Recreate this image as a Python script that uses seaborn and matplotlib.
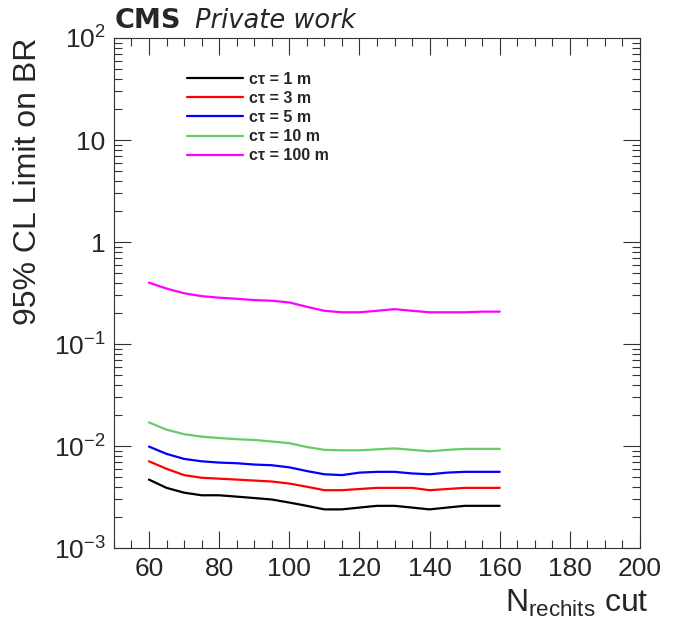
import numpy as np
import pandas as pd
import matplotlib
matplotlib.use("Agg")
import matplotlib.pyplot as plt
import matplotlib.ticker as mticker
import seaborn as sns

n_cut = [60, 65, 70, 75, 80, 85, 90, 95, 100, 105, 110, 115, 120, 125, 130, 135, 140, 145, 150, 155, 160]
lim_1m = [0.0047, 0.0039, 0.0035, 0.0033, 0.0033, 0.0032, 0.0031, 0.0030, 0.0028, 0.0026, 0.0024,
          0.0024, 0.0025, 0.0026, 0.0026, 0.0025, 0.0024, 0.0025, 0.0026, 0.0026, 0.0026]
lim_3m = [0.0071, 0.0060, 0.0052, 0.0049, 0.0048, 0.0047, 0.0046, 0.0045, 0.0043, 0.0040, 0.0037,
          0.0037, 0.0038, 0.0039, 0.0039, 0.0039, 0.0037, 0.0038, 0.0039, 0.0039, 0.0039]
lim_5m = [0.0099, 0.0084, 0.0075, 0.0071, 0.0069, 0.0068, 0.0066, 0.0065, 0.0062, 0.0057, 0.0053,
          0.0052, 0.0055, 0.0056, 0.0056, 0.0054, 0.0053, 0.0055, 0.0056, 0.0056, 0.0056]
lim_10m = [0.0171, 0.0145, 0.0131, 0.0124, 0.0120, 0.0117, 0.0115, 0.0111, 0.0107, 0.0098, 0.0092,
           0.0091, 0.0091, 0.0093, 0.0095, 0.0092, 0.0089, 0.0092, 0.0094, 0.0094, 0.0094]
lim_100m = [0.40, 0.35, 0.315, 0.295, 0.285, 0.278, 0.270, 0.266, 0.256, 0.232, 0.212,
            0.205, 0.205, 0.212, 0.220, 0.212, 0.205, 0.205, 0.205, 0.208, 0.208]
labels = ["c\u03c4 = 1 m", "c\u03c4 = 3 m", "c\u03c4 = 5 m", "c\u03c4 = 10 m", "c\u03c4 = 100 m"]
colors = ["#000000", "#ff0000", "#0000ff", "#66cc66", "#ff00ff"]

series = [lim_1m, lim_3m, lim_5m, lim_10m, lim_100m]
df = pd.concat([pd.DataFrame({"N": n_cut, "limit": s, "ctau": lab}) for s, lab in zip(series, labels)],
               ignore_index=True)

sns.set_style("ticks")
plt.rcParams["font.family"] = ["Liberation Sans", "DejaVu Sans"]
plt.rcParams["mathtext.fontset"] = "custom"
plt.rcParams["mathtext.rm"] = "Liberation Sans"
plt.rcParams["mathtext.it"] = "Liberation Sans:italic"

fig = plt.figure(figsize=(6.74, 6.33), dpi=100)
ax = fig.add_axes([0.169, 0.134, 0.7806, 0.806])

sns.lineplot(data=df, x="N", y="limit", hue="ctau", palette=colors, hue_order=labels,
             linewidth=1.6, ax=ax, legend=True)

ax.set_yscale("log")
ax.set_xlim(50, 200)
ax.set_ylim(1e-3, 1e2)

ax.xaxis.set_major_locator(mticker.MultipleLocator(20))
ax.xaxis.set_minor_locator(mticker.MultipleLocator(5))
ax.yaxis.set_major_locator(mticker.LogLocator(base=10, numticks=10))
ax.yaxis.set_minor_locator(mticker.LogLocator(base=10, subs=np.arange(2, 10), numticks=20))
ax.yaxis.set_minor_formatter(mticker.NullFormatter())

def yfmt(v, pos):
    e = int(round(np.log10(v)))
    if e == 0:
        return "1"
    if e == 1:
        return "10"
    return r"$\mathregular{10^{%d}}$" % e
ax.yaxis.set_major_formatter(mticker.FuncFormatter(yfmt))

ax.tick_params(which="both", direction="in", top=True, right=True, labelsize=19, width=0.8, color="#333333")
ax.tick_params(which="major", length=12, pad=6)
ax.tick_params(which="minor", length=6)
for sp in ax.spines.values():
    sp.set_linewidth(0.8)
    sp.set_color("#333333")

ax.set_xlabel(r"N$_{\mathregular{rechits}}$ cut", fontsize=23, labelpad=4)
ax.xaxis.set_label_coords(1.016, -0.077, transform=ax.transAxes)
ax.xaxis.label.set_horizontalalignment("right")
ax.xaxis.label.set_verticalalignment("top")
ax.set_ylabel("95% CL Limit on BR", fontsize=23, loc="top", labelpad=8)

leg = ax.legend(loc="upper left", bbox_to_anchor=(0.139, 0.934), frameon=False,
                borderpad=0, borderaxespad=0,
                prop={"weight": "bold", "size": 11.5, "family": "Liberation Sans"},
                handlelength=3.5, labelspacing=0.26, handletextpad=0.35)
for line in leg.get_lines():
    line.set_linewidth(1.6)

fig.text(0.170, 0.955, "CMS", fontsize=19.5, fontweight="bold", family="DejaVu Sans", va="baseline")
fig.text(0.290, 0.955, "Private work", fontsize=18.5, style="italic", family="DejaVu Sans", va="baseline")

fig.savefig("out.png", dpi=100)
